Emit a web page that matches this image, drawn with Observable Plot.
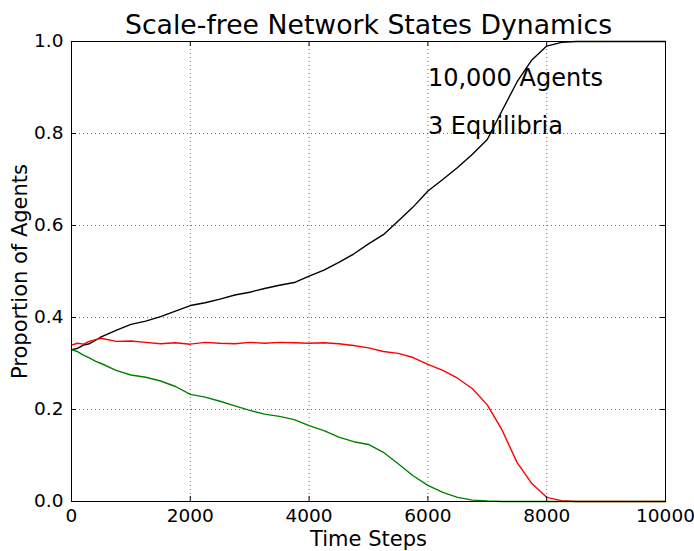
<!DOCTYPE html>
<html>
<head>
<meta charset="utf-8">
<script src="https://cdn.jsdelivr.net/npm/d3@7"></script>
<script src="https://cdn.jsdelivr.net/npm/@observablehq/plot@0.6"></script>
<style>
  body { margin: 0; background: #fff; }
  svg { font-family: "DejaVu Sans", sans-serif; }
</style>
</head>
<body>
<div id="chart"></div>
<script>
const titleText = "Scale-free Network States Dynamics";
const xLabel = "Time Steps";
const yLabel = "Proportion of Agents";
const annotations = ["10,000 Agents", "3 Equilibria"];
const annotationX = [6000, 6000];
const annotationY = [0.904, 0.80];

const xTicks = [0, 2000, 4000, 6000, 8000, 10000];
const yTicks = [0, 0.2, 0.4, 0.6, 0.8, 1.0];

const times = [0, 100, 200, 300, 400, 500, 750, 1000, 1250, 1500, 1750, 2000, 2250, 2500, 2750, 3000, 3250, 3500, 3750, 4000, 4250, 4500, 4750, 5000, 5250, 5500, 5750, 6000, 6250, 6500, 6750, 7000, 7250, 7500, 7750, 8000, 8250, 8500, 9000, 9500, 10000];

const black = [0.330, 0.333, 0.340, 0.343, 0.350, 0.358, 0.372, 0.385, 0.392, 0.402, 0.414, 0.426, 0.432, 0.440, 0.449, 0.455, 0.463, 0.470, 0.476, 0.490, 0.503, 0.520, 0.538, 0.560, 0.580, 0.610, 0.640, 0.675, 0.700, 0.726, 0.755, 0.787, 0.850, 0.912, 0.960, 0.990, 0.998, 1.000, 1.000, 1.000, 1.000];

const red = [0.340, 0.344, 0.342, 0.348, 0.352, 0.355, 0.348, 0.349, 0.346, 0.343, 0.345, 0.342, 0.346, 0.344, 0.343, 0.346, 0.344, 0.346, 0.345, 0.344, 0.345, 0.343, 0.339, 0.334, 0.326, 0.322, 0.313, 0.298, 0.285, 0.268, 0.245, 0.210, 0.155, 0.085, 0.039, 0.009, 0.002, 0.000, 0.000, 0.000, 0.000];

const green = [0.330, 0.326, 0.318, 0.312, 0.305, 0.300, 0.285, 0.275, 0.270, 0.262, 0.250, 0.233, 0.227, 0.218, 0.208, 0.198, 0.190, 0.185, 0.178, 0.165, 0.154, 0.140, 0.130, 0.124, 0.107, 0.082, 0.056, 0.035, 0.020, 0.009, 0.003, 0.001, 0.000, 0.000, 0.000, 0.000, 0.000, 0.000, 0.000, 0.000, 0.000];

const seriesNames = ["black", "red", "green"];
const seriesColors = ["#000000", "#ff0000", "#008000"];
const seriesValues = [black, red, green];

const rows = [];
seriesNames.forEach((name, s) => {
  times.forEach((t, i) => rows.push({ series: name, t, v: seriesValues[s][i] }));
});
const notes = annotations.map((text, i) => ({ text, x: annotationX[i], y: annotationY[i] }));

const gridStyle = { stroke: "#000", strokeOpacity: 0.55, strokeDasharray: "1,3", strokeWidth: 1 };

const chart = Plot.plot({
  width: 694,
  height: 551,
  marginLeft: 71,
  marginRight: 29,
  marginTop: 41,
  marginBottom: 50,
  style: { fontFamily: "DejaVu Sans, sans-serif", background: "#fff", overflow: "visible" },
  x: { domain: [0, 10000] },
  y: { domain: [0, 1] },
  color: { domain: seriesNames, range: seriesColors },
  marks: [
    Plot.ruleX(xTicks.slice(1, -1), { x: d => d, ...gridStyle }),
    Plot.ruleY(yTicks.slice(1, -1), { y: d => d, ...gridStyle }),
    Plot.line(rows, { x: "t", y: "v", z: "series", stroke: "series", strokeWidth: 1.4, curve: "linear" }),
    Plot.tickX(xTicks, { x: d => d, insetTop: 455, stroke: "#000" }),
    Plot.tickX(xTicks, { x: d => d, insetBottom: 455, stroke: "#000" }),
    Plot.tickY(yTicks, { y: d => d, insetRight: 589, stroke: "#000" }),
    Plot.tickY(yTicks, { y: d => d, insetLeft: 589, stroke: "#000" }),
    Plot.frame({ stroke: "#000", strokeWidth: 1 }),
    Plot.axisX(xTicks, { tickSize: 0, tickPadding: 7, fontSize: 18.5, fill: "#000", tickFormat: d => String(d), label: null }),
    Plot.axisY(yTicks, { tickSize: 0, tickPadding: 8, fontSize: 18.5, fill: "#000", tickFormat: d => d.toFixed(1), label: null }),
    Plot.text([xLabel], { frameAnchor: "bottom", dy: 44, lineAnchor: "bottom", fontSize: 21, fill: "#000" }),
    Plot.text([yLabel], { frameAnchor: "left", textAnchor: "middle", dx: -51, rotate: -90, fontSize: 21, fill: "#000" }),
    Plot.text([titleText], { frameAnchor: "top", dy: -8, lineAnchor: "bottom", fontSize: 26.7, fill: "#000" }),
    Plot.text(notes, { x: "x", y: "y", text: "text", textAnchor: "start", lineAnchor: "bottom", fontSize: 24, fill: "#000" })
  ]
});
document.getElementById("chart").appendChild(chart);
</script>
</body>
</html>
